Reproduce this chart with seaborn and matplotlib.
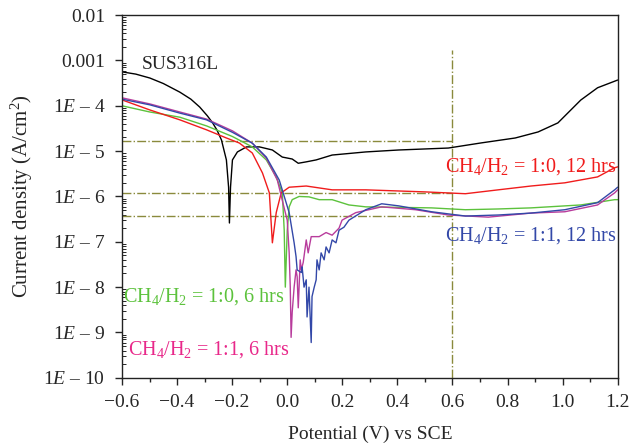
import numpy as np
import pandas as pd
import matplotlib
matplotlib.use('Agg')
import matplotlib.pyplot as plt
from matplotlib.ticker import LogLocator, NullFormatter
import seaborn as sns

# polarization curves (potential in V vs SCE, current density in A/cm2)
sus_x = [-0.6, -0.55, -0.499, -0.45, -0.39, -0.35, -0.318, -0.29, -0.271, -0.255, -0.239, -0.221,
         -0.213, -0.21, -0.206, -0.199, -0.181, -0.148, -0.101, -0.054, -0.018, 0.018, 0.04, 0.069,
         0.105, 0.163, 0.285, 0.405, 0.585, 0.705, 0.828, 0.911, 0.983, 1.03, 1.066, 1.127, 1.2]
sus_y = [5.6e-4, 5.0e-4, 4.1e-4, 3.1e-4, 2.0e-4, 1.4e-4, 9.4e-5, 6.0e-5, 4.2e-5, 2.9e-5, 1.77e-5, 6.4e-6,
         1.6e-6, 2.6e-7, 1.6e-6, 6.4e-6, 9.6e-6, 1.24e-5, 1.24e-5, 1.06e-5, 7.4e-6, 6.7e-6, 5.4e-6, 5.8e-6,
         6.4e-6, 8.2e-6, 9.6e-6, 1.06e-5, 1.17e-5, 1.52e-5, 1.95e-5, 2.65e-5, 4.2e-5, 8.1e-5, 1.34e-4,
         2.5e-4, 3.7e-4]

red_x = [-0.6, -0.499, -0.39, -0.293, -0.221, -0.174, -0.127, -0.09, -0.065, -0.054, -0.04,
         -0.022, 0.007, 0.069, 0.163, 0.285, 0.502, 0.647, 0.766, 0.885, 1.008, 1.127, 1.189, 1.2]
red_y = [1.35e-4, 8.1e-5, 4.9e-5, 2.95e-5, 1.95e-5, 1.51e-5, 9.1e-6, 3.3e-6, 1.2e-6, 9.5e-8, 4.4e-7,
         1.2e-6, 1.6e-6, 1.7e-6, 1.4e-6, 1.4e-6, 1.26e-6, 1.15e-6, 1.4e-6, 1.7e-6, 2.0e-6, 2.7e-6,
         4.3e-6, 4.5e-6]

green_x = [-0.6, -0.499, -0.39, -0.293, -0.199, -0.127, -0.076, -0.04, -0.018, -0.011, -0.007,
           0.0, 0.007, 0.018, 0.043, 0.079, 0.116, 0.163, 0.224, 0.285, 0.524, 0.647, 0.766,
           0.885, 1.066, 1.189, 1.2]
green_y = [1.0e-4, 7.3e-5, 5.6e-5, 3.6e-5, 2.1e-5, 1.24e-5, 6.4e-6, 2.7e-6, 1.2e-6, 1.8e-7, 1.0e-8,
           1.8e-7, 5.9e-7, 8.5e-7, 1.0e-6, 9.8e-7, 8.5e-7, 8.5e-7, 6.5e-7, 5.9e-7, 5.6e-7, 5.1e-7,
           5.3e-7, 5.6e-7, 6.5e-7, 8.5e-7, 8.5e-7]

blue_x = [-0.6, -0.499, -0.39, -0.293, -0.199, -0.127, -0.076, -0.029, 0.007, 0.025, 0.032, 0.036,
          0.051, 0.054, 0.061, 0.069, 0.072, 0.079, 0.087, 0.09, 0.098, 0.105, 0.108, 0.116, 0.123,
          0.134, 0.141, 0.152, 0.163, 0.177, 0.188, 0.206, 0.224, 0.285, 0.343, 0.405, 0.524,
          0.647, 0.766, 0.885, 1.008, 1.127, 1.189, 1.2]
blue_y = [1.4e-4, 1.05e-4, 6.9e-5, 4.9e-5, 2.6e-5, 1.5e-5, 7.4e-6, 2.3e-6, 4.4e-7, 9.5e-8, 4.7e-8, 2.4e-8,
          2.1e-8, 2.8e-8, 1.0e-8, 1.45e-8, 2.2e-9, 1.0e-8, 6.0e-10, 6.2e-9, 1.0e-8, 1.45e-8, 4.0e-8,
          2.4e-8, 5.7e-8, 4.0e-8, 7.7e-8, 5.7e-8, 1.1e-7, 9.5e-8, 1.8e-7, 2.1e-7, 3.0e-7, 5.1e-7,
          6.9e-7, 6.2e-7, 4.6e-7, 3.7e-7, 3.9e-7, 4.3e-7, 5.1e-7, 7.3e-7, 1.4e-6, 1.6e-6]

mag_x = [-0.6, -0.499, -0.39, -0.293, -0.199, -0.127, -0.076, -0.036, -0.007, 0.0, 0.007, 0.011,
         0.014, 0.018, 0.025, 0.032, 0.036, 0.04, 0.047, 0.051, 0.058, 0.069, 0.076, 0.087, 0.116,
         0.141, 0.163, 0.188, 0.199, 0.249, 0.343, 0.466, 0.585, 0.73, 0.885, 1.008, 1.127, 1.189, 1.2]
mag_y = [1.5e-4, 1.1e-4, 7.3e-5, 5.1e-5, 2.8e-5, 1.5e-5, 7.0e-6, 2.3e-6, 4.4e-7, 3.0e-7, 5.7e-8, 1.0e-8,
         7.8e-10, 2.8e-9, 1.0e-8, 2.4e-8, 1.7e-8, 3.5e-9, 4.0e-8, 2.4e-8, 3.5e-8, 1.1e-7, 5.7e-8, 1.3e-7,
         1.3e-7, 1.6e-7, 1.4e-7, 2.0e-7, 3.0e-7, 4.4e-7, 5.9e-7, 5.1e-7, 3.9e-7, 3.5e-7, 4.3e-7, 4.6e-7,
         6.5e-7, 1.2e-6, 1.4e-6]

# dash-dot guide lines
guide_levels = [1.7e-5, 1.2e-6, 3.7e-7]
guide_potential = 0.6
guide_top = 1.7e-3

x_ticks = [-0.6, -0.4, -0.2, 0.0, 0.2, 0.4, 0.6, 0.8, 1.0, 1.2]
x_ticklabels = ['\u22120.6', '\u22120.4', '\u22120.2', '0.0', '0.2', '0.4', '0.6', '0.8', '1.0', '1.2']
y_ticks = [1e-2, 1e-3, 1e-4, 1e-5, 1e-6, 1e-7, 1e-8, 1e-9, 1e-10]
y_ticklabels = ['0.01', '0.001'] + ['1$\\mathit{E}$ \u2013 %d' % k for k in range(4, 11)]

sns.set_style('ticks')
plt.rcParams['font.family'] = ['Liberation Serif', 'DejaVu Serif']
plt.rcParams['mathtext.fontset'] = 'custom'
plt.rcParams['mathtext.rm'] = 'Liberation Serif'
plt.rcParams['mathtext.it'] = 'Liberation Serif:italic'
plt.rcParams['mathtext.bf'] = 'Liberation Serif:bold'

fig = plt.figure(figsize=(6.29, 4.45), dpi=100)
ax = fig.add_axes([0.194, 0.151, 0.788, 0.815])

olive = '#8a8a3c'
for lv in guide_levels:
    ax.hlines(lv, -0.6, guide_potential, colors=olive, linestyles='-.', lw=1.0)
ax.vlines(guide_potential, 1e-10, guide_top, colors=olive, linestyles='-.', lw=1.0)

curves = [
    (sus_x, sus_y, 'black'),
    (green_x, green_y, '#5cc23c'),
    (red_x, red_y, '#f01c1c'),
    (mag_x, mag_y, '#b83c9c'),
    (blue_x, blue_y, '#3348a8'),
]
for xs, ys, c in curves:
    sns.lineplot(x=xs, y=ys, color=c, lw=1.0, ax=ax, sort=False, estimator=None)

ax.set_yscale('log')
ax.set_xlim(-0.6, 1.2)
ax.set_ylim(1e-10, 1e-2)
ax.set_xticks(x_ticks)
ax.set_xticklabels(x_ticklabels)
ax.set_xticks(np.arange(-0.5, 1.2, 0.2), minor=True)
ax.set_yticks(y_ticks)
ax.set_yticklabels(y_ticklabels)
ax.yaxis.set_minor_locator(LogLocator(base=10, subs=np.arange(2, 10), numticks=100))
ax.yaxis.set_minor_formatter(NullFormatter())
ax.tick_params(axis='both', which='major', labelsize=14, direction='out', length=5, width=1, pad=7)
ax.tick_params(axis='y', which='minor', direction='in', length=3, width=0.7)
ax.tick_params(axis='x', which='minor', direction='out', length=3, width=1)
for s in ax.spines.values():
    s.set_linewidth(1.0)
    s.set_color('#222222')

ax.set_xlabel('Potential (V) vs SCE', fontsize=14, labelpad=10)
ax.set_ylabel('Current density (A/cm$^2$)', fontsize=15, labelpad=6)

ax.text(-0.528, 8e-4, 'SUS316L', fontsize=14, ha='left', va='center')
ax.text(1.198, 4.5e-6, 'CH$_4$/H$_2$ = 1:0, 12 hrs', fontsize=14.5, color='#f01c1c', ha='right', va='center')
ax.text(1.198, 1.4e-7, 'CH$_4$/H$_2$ = 1:1, 12 hrs', fontsize=14.5, color='#3348a8', ha='right', va='center')
ax.text(-0.598, 6.2e-9, 'CH$_4$/H$_2$ = 1:0, 6 hrs', fontsize=14.5, color='#5cc23c', ha='left', va='center')
ax.text(-0.58, 4.2e-10, 'CH$_4$/H$_2$ = 1:1, 6 hrs', fontsize=14.5, color='#e8288a', ha='left', va='center')

fig.savefig('out.png', dpi=100)
